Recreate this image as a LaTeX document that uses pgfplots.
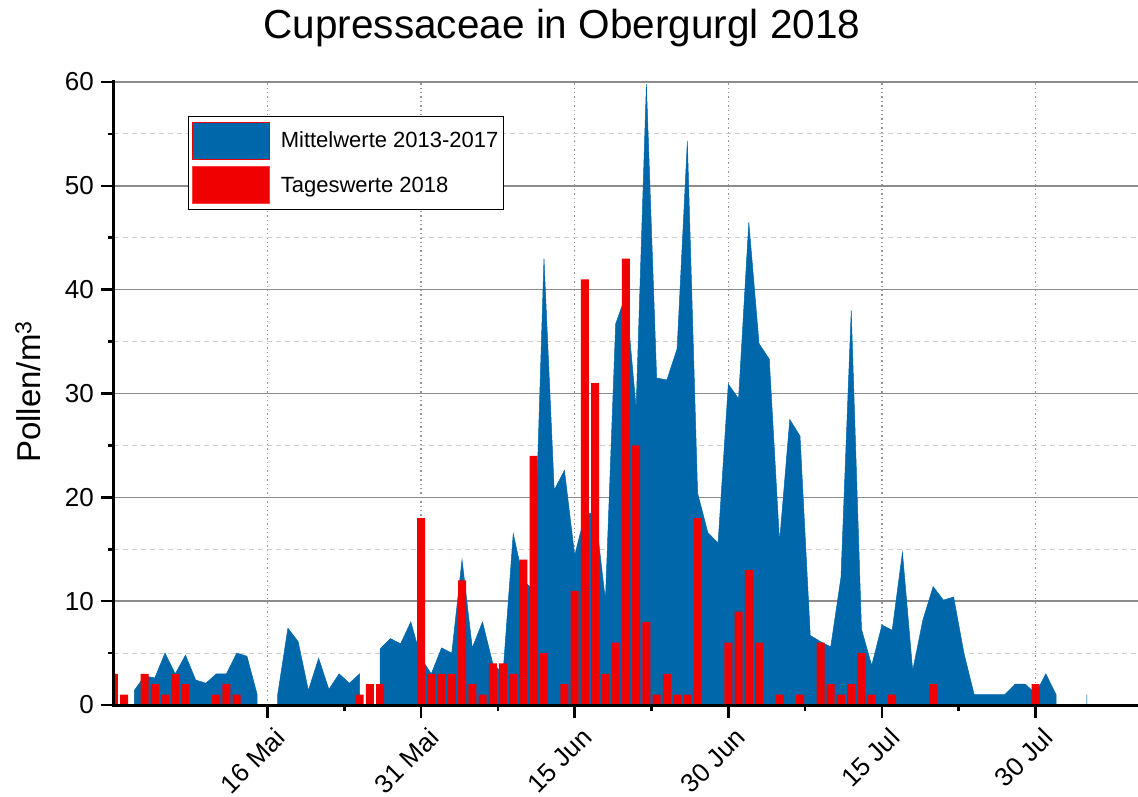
\documentclass[border=0pt]{standalone}
\usepackage{fontspec}
\setmainfont{Liberation Sans}
\usepackage{pgfplots}
\pgfplotsset{compat=1.18}
\definecolor{pblue}{RGB}{0,104,170}
\definecolor{pred}{RGB}{240,0,0}
\definecolor{gmaj}{RGB}{140,140,140}
\definecolor{gmin}{RGB}{205,205,205}
\definecolor{gx}{RGB}{150,150,150}
\begin{document}
\begin{tikzpicture}
\useasboundingbox (-113.8pt,-91pt) rectangle (1024.2pt,705pt);
\begin{axis}[
  at={(0pt,0pt)}, anchor=south west,
  scale only axis, width=1024.2pt, height=623pt,
  xmin=0, xmax=100, ymin=0, ymax=60,
  axis x line*=bottom, axis y line*=left,
  axis line style={line width=3pt},
  clip mode=individual,
  xtick={15,30,45,60,75,90},
  xticklabels={16 Mai,31 Mai,15 Jun,30 Jun,15 Jul,30 Jul},
  minor x tick num=1,
  ytick={0,10,...,60}, minor y tick num=1,
  tick align=outside,
  major tick length=12.5pt, minor tick length=6pt,
  tick style={black, line width=2.6pt},
  ymajorgrids, yminorgrids, xmajorgrids,
  major y grid style={gmaj, line width=1.4pt},
  minor y grid style={gmin, line width=1pt, dash pattern=on 5pt off 4pt},
  major x grid style={gx, line width=1.4pt, dash pattern=on 1.4pt off 3pt},
  /pgf/number format/assume math mode=true,
  ticklabel style={font=\fontsize{26}{30}\selectfont},
  yticklabel style={xshift=-4pt},
  xticklabel style={xshift=6pt, yshift=-4pt, rotate=45, anchor=north east},
  title={Cupressaceae in Obergurgl 2018},
  title style={at={(axis description cs:0.4376,1.0594)}, anchor=base, font=\fontsize{40.5}{48}\selectfont},
  ylabel={Pollen/m\textsuperscript{3}},
  ylabel style={at={(axis description cs:-0.0838,0.5024)}, anchor=center, font=\fontsize{33}{38}\selectfont},
  legend style={at={(axis description cs:0.0724,0.9454)}, anchor=north west, draw=black, line width=1.3pt,
    fill=white, font=\fontsize{22}{26}\selectfont, nodes={inner sep=2pt}, row sep=6.5pt,
    inner ysep=5pt, inner xsep=3pt,
    /tikz/every odd column/.append style={column sep=9pt}},
  legend cell align=left,
]
\addplot[fill=pblue, draw=pblue, line width=0.5pt,
  legend image code/.code={\draw[fill=pblue, draw=pred, line width=1.2pt] (0pt,-18.5pt) rectangle (77pt,18.5pt);}]
coordinates {
(2,0) (2,1.4) (3,2.8) (4,2.6) (5,5.0) (6,3.0) (7,4.8) (8,2.4) (9,2.1) (10,3.0) (11,3.0) (12,5.0) (13,4.7) (14,1.0) (14,0)
(16,0) (16,1.0) (17,7.4) (18,6.1) (19,1.4) (20,4.5) (21,1.5) (22,3.0) (23,2.1) (24,3.0) (24,0)
(26,0) (26,5.4) (27,6.4) (28,5.9) (29,8.0) (30,4.5) (31,3.0) (32,5.5) (33,5.0) (34,14.0) (35,5.5) (36,8.0) (37,4.0) (38,3.0)
(39,16.5) (40,12.0) (41,11.0) (42,43.0) (43,20.7) (44,22.6) (45,14.4) (46,18.3) (47,18.6) (48,10.1) (49,36.7) (50,39.5)
(51,28.6) (52,59.8) (53,31.5) (54,31.3) (55,34.3) (56,54.3) (57,20.4) (58,16.6) (59,15.6) (60,30.9) (61,29.5) (62,46.5)
(63,34.8) (64,33.3) (65,15.7) (66,27.5) (67,25.9) (68,6.7) (69,6.1) (70,5.6) (71,12.3) (72,38.0) (73,7.3) (74,3.8)
(75,7.7) (76,7.2) (77,14.7) (78,3.3) (79,8.2) (80,11.4) (81,10.1) (82,10.4) (83,5.0) (84,1.0) (85,1.0) (86,1.0) (87,1.0)
(88,2.0) (89,2.0) (90,1.1) (91,3.0) (92,1.0) (92,0)
(95,0) (95,1.0) (95,0)
};
\addlegendentry{Mittelwerte 2013-2017}
\addplot[ybar, bar width=8pt, bar shift=0pt, fill=pred, draw=none,
  legend image code/.code={\draw[fill=pred, draw=pred!75!white, line width=1pt] (0pt,-18.5pt) rectangle (77pt,18.5pt);}]
coordinates {
(0,3) (1,1) (3,3) (4,2) (5,1) (6,3) (7,2) (10,1) (11,2) (12,1) (24,1) (25,2) (26,2)
(30,18) (31,3) (32,3) (33,3) (34,12) (35,2) (36,1) (37,4) (38,4) (39,3) (40,14) (41,24) (42,5)
(44,2) (45,11) (46,41) (47,31) (48,3) (49,6) (50,43) (51,25) (52,8) (53,1) (54,3) (55,1) (56,1) (57,18)
(60,6) (61,9) (62,13) (63,6) (65,1) (67,1) (69,6) (70,2) (71,1) (72,2) (73,5) (74,1) (76,1) (80,2) (90,2)
};
\addlegendentry{Tageswerte 2018}
\draw[line width=3pt, line cap=rect] (rel axis cs:0,0) -- (rel axis cs:1,0);
\draw[line width=3pt, line cap=rect] (rel axis cs:0,0) -- (rel axis cs:0,1);
\end{axis}
\end{tikzpicture}
\end{document}
